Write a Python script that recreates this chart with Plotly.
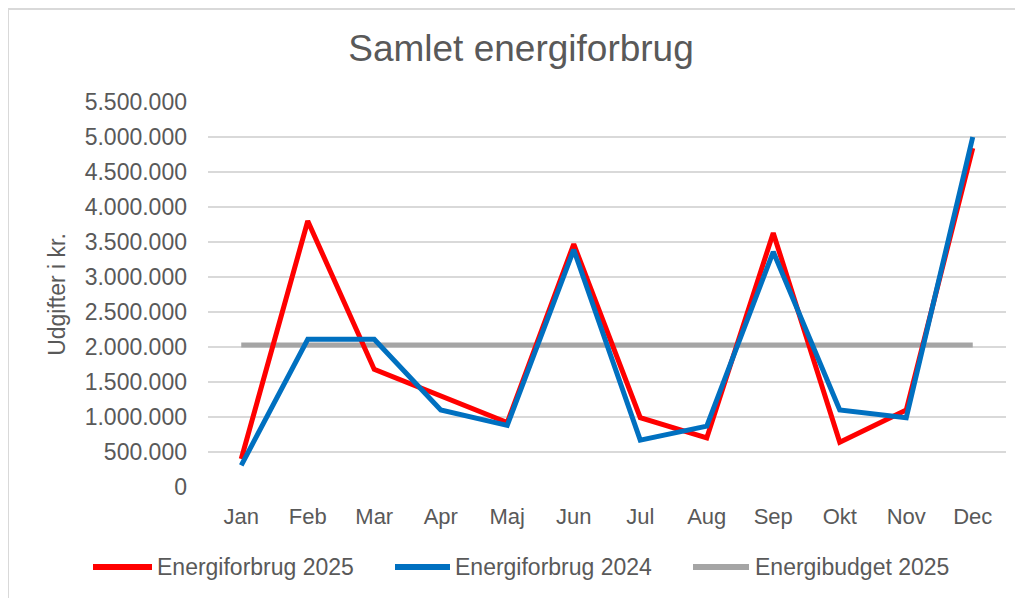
import plotly.graph_objects as go

# data
months = ["Jan", "Feb", "Mar", "Apr", "Maj", "Jun", "Jul", "Aug", "Sep", "Okt", "Nov", "Dec"]
forbrug_2025 = [400000, 3800000, 1680000, 1300000, 920000, 3470000,
                990000, 700000, 3630000, 640000, 1100000, 4840000]
forbrug_2024 = [310000, 2110000, 2110000, 1100000, 880000, 3390000,
                670000, 870000, 3360000, 1100000, 990000, 5000000]
budget_2025 = [2030000] * 12

series_names = ["Energiforbrug 2025", "Energiforbrug 2024", "Energibudget 2025"]
series_colors = ["#FF0000", "#0070C0", "#A5A5A5"]

# page body has an 8px margin, so the figure starts at (8, 8)
OFF = 8
W, H = 1023 - OFF, 598 - OFF
PL, PR, PT, PB = 208, 1006, 102, 487  # plot area in screen pixels


def px_x(x):
    return (x - PL) / (PR - PL)


def px_y(y):
    return (PB - y) / (PB - PT)


text_col = "#595959"
font = "Liberation Sans, Arial, sans-serif"

fig = go.Figure()

# draw order: budget underneath, then 2025, then 2024 on top
fig.add_trace(go.Scatter(x=months, y=budget_2025, name=series_names[2],
                         mode="lines", line=dict(color=series_colors[2], width=5)))
fig.add_trace(go.Scatter(x=months, y=forbrug_2025, name=series_names[0],
                         mode="lines", line=dict(color=series_colors[0], width=5)))
fig.add_trace(go.Scatter(x=months, y=forbrug_2024, name=series_names[1],
                         mode="lines", line=dict(color=series_colors[1], width=5)))

# legend drawn by hand so the sample lines match the original width
legend_y = 567
legend_items = [(93, 152, 155), (395, 450, 453), (693, 749, 753)]
shapes = [dict(type="rect", xref="paper", yref="paper",
               x0=px_x(8), x1=px_x(1019), y0=px_y(640), y1=px_y(9),
               line=dict(color="#D9D9D9", width=2), layer="below")]
annotations = []
for (x0, x1, tx), name, col in zip(legend_items, series_names, series_colors):
    shapes.append(dict(type="line", xref="paper", yref="paper",
                       x0=px_x(x0), x1=px_x(x1), y0=px_y(legend_y), y1=px_y(legend_y),
                       line=dict(color=col, width=6)))
    annotations.append(dict(text=name, xref="paper", yref="paper",
                            x=px_x(tx), y=px_y(legend_y), xanchor="left",
                            yanchor="middle", showarrow=False,
                            font=dict(size=23, color=text_col)))

fig.update_layout(
    width=W, height=H,
    margin=dict(l=PL - OFF, r=W - (PR - OFF), t=PT - OFF, b=H - (PB - OFF)),
    paper_bgcolor="white", plot_bgcolor="white",
    separators=",.",
    font=dict(family=font, color=text_col, size=23),
    title=dict(text="Samlet energiforbrug", x=(521 - OFF) / W, xanchor="center",
               y=1 - (48 - OFF) / H, yanchor="middle",
               font=dict(size=37, color=text_col)),
    showlegend=False,
    xaxis=dict(showgrid=False, showline=False, zeroline=False,
               ticks="", ticklabelstandoff=14,
               range=[-0.5, 11.5], tickfont=dict(size=22)),
    yaxis=dict(range=[0, 5500000], dtick=500000, tickformat=",d",
               showgrid=True, gridcolor="#D9D9D9", gridwidth=1.5,
               zeroline=False, showline=False, ticks="",
               ticklabelstandoff=20,
               tickfont=dict(size=23),
               title=dict(text="Udgifter i kr.", standoff=12,
                          font=dict(size=23, color=text_col))),
    shapes=shapes,
    annotations=annotations,
)

fig.write_html("out.html")
